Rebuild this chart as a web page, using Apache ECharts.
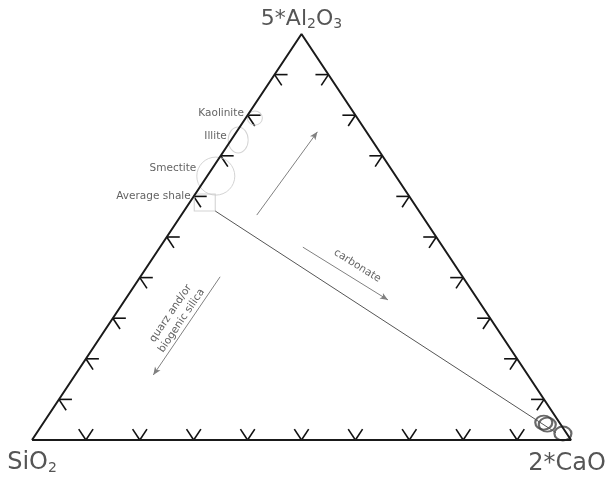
<!DOCTYPE html>
<html style="height: 100%">
<head>
<meta charset="utf-8">
<title>SiO2 - Al2O3 - CaO</title>
</head>
<body style="height: 100%; margin: 0; background-color: #fff;">
<div id="container" style="width: 613px; height: 477px;"></div>
<script src="https://cdn.jsdelivr.net/npm/echarts@6/dist/echarts.min.js"></script>
<script>
// every composition is [5*Al2O3, 2*CaO] as fractions, SiO2 is the rest
var tickSteps = [0.1, 0.2, 0.3, 0.4, 0.5, 0.6, 0.7, 0.8, 0.9];
var vertexNames = ['SiO2', '5*Al2O3', '2*CaO'];
var vertexComp = [[0, 0], [1, 0], [0, 1]];
var fieldNames = ['Kaolinite', 'Illite', 'Smectite', 'Average shale'];
var fieldComp = [[0.793, 0.017], [0.739, 0.013], [0.650, 0.016], [0.585, 0.028]];
var sampleComp = [[0.043, 0.928], [0.038, 0.937], [0.016, 0.977]];
var mixLine = [[0.564, 0.058], [0.018, 0.963]];
var arrowUp = [[0.554, 0.140], [0.759, 0.150]];
var arrowCarb = [[0.475, 0.265], [0.345, 0.488]];
var arrowSil = [[0.402, 0.148], [0.160, 0.145]];
var arrowText = ['carbonate', 'quarz and/or\nbiogenic silica'];
var arrowTextComp = [[0.429, 0.389], [0.303, 0.116]];

function xy(c) { return [c[1] + c[0] / 2, c[0]]; }

var dom = document.getElementById('container');
var myChart = echarts.init(dom);
var font = 'DejaVu Sans';

// ticks: x, y, edge index
var tickData = [];
tickSteps.forEach(function (f) {
    tickData.push(xy([f, 0]).concat(0));
    tickData.push(xy([0, f]).concat(1));
    tickData.push(xy([f, 1 - f]).concat(2));
});
// edge -> [A, B, C], C is the opposite vertex
var edges = [[0, 1, 2], [0, 2, 1], [2, 1, 0]];
function renderTick(params, api) {
    var p = api.coord([api.value(0), api.value(1)]);
    var e = edges[api.value(2)];
    var v = vertexComp.map(function (c) { return api.coord(xy(c)); });
    var c = v[e[2]];
    var kids = [e[0], e[1]].map(function (k) {
        var dx = c[0] - v[k][0], dy = c[1] - v[k][1];
        var len = Math.sqrt(dx * dx + dy * dy);
        return {
            type: 'line',
            shape: { x1: p[0], y1: p[1], x2: p[0] + dx / len * 13, y2: p[1] + dy / len * 13 },
            style: { stroke: '#111', lineWidth: 1.6 }
        };
    });
    return { type: 'group', children: kids };
}

var fieldLook = [
    { symbol: 'path://M0,-1A1,1,0,1,1,0,1A1,1,0,1,1,0,-1Z', size: [15, 14], dist: 3, off: [0, -5] },
    { symbol: 'path://M0,-1A1,1,0,1,1,0,1A1,1,0,1,1,0,-1Z', size: [20, 26], dist: 1, off: [0, -4] },
    { symbol: 'path://M0,-1A1,1,0,1,1,0,1A1,1,0,1,1,0,-1Z', size: [38, 38], dist: 0, off: [0, -8] },
    { symbol: 'rect', size: [21, 17], dist: 3, off: [0, -6] }
];
var fieldData = fieldComp.map(function (c, i) {
    var s = fieldLook[i];
    return {
        name: fieldNames[i], value: xy(c), symbol: s.symbol, symbolSize: s.size,
        label: { distance: s.dist, offset: s.off }
    };
});

var vertexLabels = [
    { text: '{m|SiO}{s|2}', off: [0, 23], size: 24 },
    { text: '{m|5*Al}{s|2}{m|O}{s|3}', off: [0, -15], size: 22 },
    { text: '{m|2*CaO}', off: [-4, 24], size: 24 }
];
var vertexData = vertexComp.map(function (c, i) {
    var l = vertexLabels[i];
    return {
        name: vertexNames[i], value: xy(c),
        label: {
            formatter: l.text, offset: l.off,
            rich: {
                m: { fontSize: l.size, fontFamily: font, color: '#2a2a2a' },
                s: { fontSize: 14, fontFamily: font, color: '#2a2a2a', padding: [10, 0, 0, 0] }
            }
        }
    };
});

var option = {
    animation: false,
    grid: { left: 32, right: 42, top: 34, bottom: 37 },
    xAxis: { type: 'value', min: 0, max: 1, show: false },
    yAxis: { type: 'value', min: 0, max: 1, show: false },
    series: [
        {
            type: 'line', silent: true, symbol: 'none',
            data: [xy(vertexComp[0]), xy(vertexComp[1]), xy(vertexComp[2]), xy(vertexComp[0])],
            lineStyle: { color: '#1a1a1a', width: 2 }
        },
        {
            type: 'custom', silent: true, renderItem: renderTick,
            data: tickData
        },
        {
            type: 'line', silent: true, symbol: 'none',
            data: mixLine.map(xy),
            lineStyle: { color: '#555', width: 1 },
            markLine: {
                silent: true, symbol: ['none', 'arrow'], symbolSize: [5, 8],
                label: { show: false },
                lineStyle: { color: '#808080', width: 1, type: 'solid' },
                data: [arrowUp, arrowCarb, arrowSil].map(function (a) {
                    return [{ coord: xy(a[0]) }, { coord: xy(a[1]) }];
                })
            }
        },
        {
            type: 'scatter', silent: true,
            data: fieldData,
            itemStyle: { color: 'transparent', borderColor: '#c8c8c8', borderWidth: 1 },
            label: {
                show: true, position: 'left', formatter: '{b}',
                fontFamily: font, fontSize: 10.5, color: '#3a3a3a'
            }
        },
        {
            type: 'scatter', silent: true, symbol: 'circle',
            data: sampleComp.map(xy), symbolSize: [17, 14, 16],
            itemStyle: { color: 'transparent', borderColor: '#444', borderWidth: 2 }
        },
        {
            type: 'scatter', silent: true, symbolSize: 1,
            itemStyle: { color: 'transparent' },
            data: arrowTextComp.map(function (c, i) {
                return { name: arrowText[i], value: xy(c), label: { rotate: i === 0 ? -32 : 56 } };
            }),
            label: {
                show: true, position: 'inside', formatter: '{b}',
                fontFamily: font, fontSize: 10.5, lineHeight: 13, color: '#3a3a3a', align: 'center'
            }
        },
        {
            type: 'scatter', silent: true, symbolSize: 1,
            itemStyle: { color: 'transparent' },
            data: vertexData,
            label: { show: true, position: 'inside' }
        }
    ]
};
myChart.setOption(option);
</script>
</body>
</html>
